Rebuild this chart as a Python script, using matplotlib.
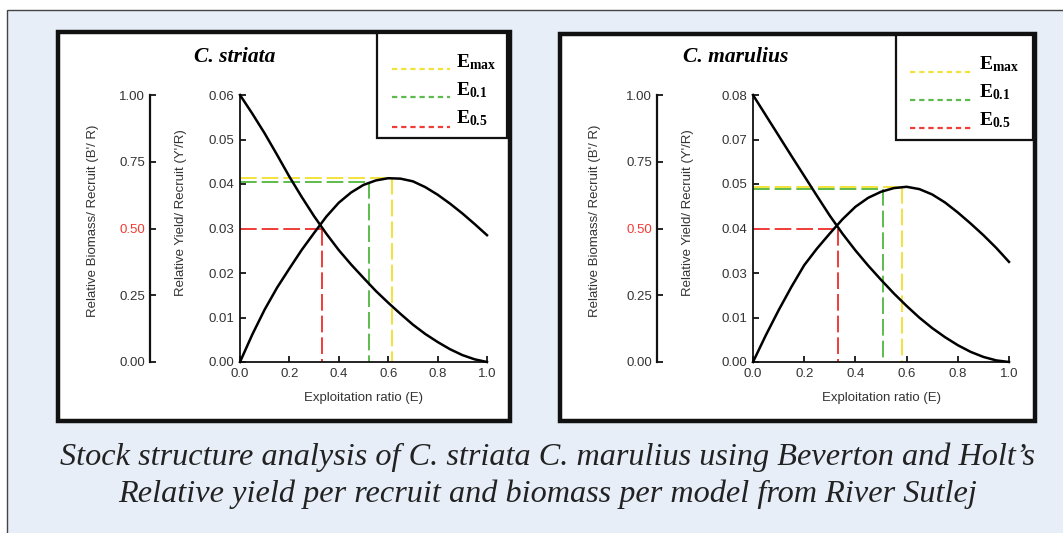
import numpy as np
import matplotlib
matplotlib.use("Agg")
import matplotlib.pyplot as plt
from matplotlib.patches import Rectangle
from matplotlib.lines import Line2D
from matplotlib.transforms import Affine2D

plt.rcParams['lines.scale_dashes'] = False
plt.rcParams['mathtext.fontset'] = 'custom'
plt.rcParams['mathtext.rm'] = 'Liberation Serif:bold'
plt.rcParams['mathtext.it'] = 'Liberation Serif:bold'
plt.rcParams['mathtext.bf'] = 'Liberation Serif:bold'

# ---------------------------------------------------------------- data
E = [0.00, 0.05, 0.10, 0.15, 0.20, 0.25, 0.30, 0.35, 0.40, 0.45, 0.50,
     0.55, 0.60, 0.65, 0.70, 0.75, 0.80, 0.85, 0.90, 0.95, 1.00]

striata_yield = [0.0000, 0.0062, 0.0118, 0.0167, 0.0210, 0.0252, 0.0290,
                 0.0327, 0.0358, 0.0381, 0.0398, 0.0408, 0.0413, 0.0412,
                 0.0406, 0.0393, 0.0376, 0.0356, 0.0334, 0.0310, 0.0285]
striata_biomass = [1.000, 0.930, 0.856, 0.776, 0.694, 0.618, 0.546, 0.480,
                   0.419, 0.365, 0.315, 0.266, 0.222, 0.180, 0.140, 0.105,
                   0.075, 0.048, 0.026, 0.010, 0.000]

marulius_yield = [0.0000, 0.0080, 0.0155, 0.0225, 0.0290, 0.0340, 0.0385,
                  0.0428, 0.0465, 0.0492, 0.0510, 0.0521, 0.0525, 0.0518,
                  0.0502, 0.0478, 0.0448, 0.0415, 0.0380, 0.0342, 0.0300]
marulius_biomass = [1.000, 0.924, 0.848, 0.772, 0.697, 0.622, 0.548, 0.480,
                    0.418, 0.361, 0.308, 0.257, 0.210, 0.166, 0.127, 0.093,
                    0.063, 0.038, 0.019, 0.006, 0.000]

# reference points: E_max, E_0.1, E_0.5
striata_E_ref = [0.615, 0.524, 0.333]
striata_Y_ref = [0.0414, 0.0404]
marulius_E_ref = [0.583, 0.509, 0.331]
marulius_Y_ref = [0.0525, 0.0517]
half_biomass = 0.50

striata_ytop = 0.06
marulius_ytop = 0.08

x_ticks = [0.0, 0.2, 0.4, 0.6, 0.8, 1.0]
biomass_ticks = [0.00, 0.25, 0.50, 0.75, 1.00]

species = ["C. striata", "C. marulius"]
ref_labels = [r'$\mathrm{E}_{\mathrm{max}}$', r'$\mathrm{E}_{0.1}$',
              r'$\mathrm{E}_{0.5}$']
ref_colors = ['#f2e33c', '#5dbb4e', '#ef3d37']

biomass_label = "Relative Biomass/ Recruit (B'/ R)"
yield_label = "Relative Yield/ Recruit (Y'/R)"
x_label = "Exploitation ratio (E)"
caption = ["Stock structure analysis of C. striata C. marulius using Beverton and Holt\u2019s",
           "Relative yield per recruit and biomass per model from River Sutlej"]

# ---------------------------------------------------------------- figure
W, H = 1063, 533
fig = plt.figure(figsize=(W / 100, H / 100), dpi=100)
fig.patch.set_facecolor('white')
PX = Affine2D().scale(1 / W, -1 / H).translate(0, 1) + fig.transFigure

SANS = 'Liberation Sans'
SERIF = 'Liberation Serif'
GREY = '#333333'


def box(x0, y0, x1, y1):
    return [x0 / W, 1 - y1 / H, (x1 - x0) / W, (y1 - y0) / H]


# light blue backdrop
fig.patches.append(Rectangle((7, 10), W, H, transform=PX, facecolor='#e7eef8',
                             edgecolor='#444444', lw=1.0, zorder=-3))


def draw_panel(frame, plot, bio_x, bio_lab_x, yld_lab_x, legend, title, title_x,
               yld, bio, e_ref, y_ref, ytop):
    fx0, fy0, fx1, fy1 = frame
    fig.patches.append(Rectangle((fx0 + 2, fy0 + 2), fx1 - fx0 - 4, fy1 - fy0 - 4,
                                 transform=PX, facecolor='white',
                                 edgecolor='#111111', lw=3.2, zorder=-2))
    px0, py0, px1, py1 = plot
    ax = fig.add_axes(box(*plot))
    ax.patch.set_alpha(0)
    ax.set_xlim(0, 1)
    ax.set_ylim(0, ytop)
    for s in ('top', 'right'):
        ax.spines[s].set_visible(False)
    for s in ('left', 'bottom'):
        ax.spines[s].set_linewidth(1.3)
        ax.spines[s].set_color('#111111')
    ax.set_xticks(x_ticks)
    ax.set_xticklabels([f'{t:.1f}' for t in x_ticks])
    yt = np.linspace(0, ytop, 7)
    ax.set_yticks(yt)
    ax.set_yticklabels([f'{t:.2f}' for t in yt])
    ax.tick_params(direction='in', length=4, width=1.2, labelsize=9.5,
                   labelcolor=GREY, pad=4)
    for lab in ax.get_xticklabels() + ax.get_yticklabels():
        lab.set_fontfamily(SANS)

    ax.set_xlabel(x_label, fontsize=9.5, color=GREY, fontfamily=SANS, va='center')
    ax.xaxis.set_label_coords(0.5, (py1 - 398) / (py1 - py0))
    ax.set_ylabel(yield_label, fontsize=9.5, color=GREY, fontfamily=SANS, va='center')
    ax.yaxis.set_label_coords((yld_lab_x - px0) / (px1 - px0), 0.56)

    # biomass axis on a detached spine to the left
    bax = ax.twinx()
    bax.set_ylim(0, 1)
    for s in ('top', 'right', 'bottom'):
        bax.spines[s].set_visible(False)
    bax.spines['left'].set_visible(True)
    bax.spines['left'].set_position(('axes', (bio_x - px0) / (px1 - px0)))
    bax.spines['left'].set_linewidth(1.6)
    bax.spines['left'].set_color('#111111')
    bax.yaxis.set_ticks_position('left')
    bax.yaxis.set_label_position('left')
    bax.set_yticks(biomass_ticks)
    bax.set_yticklabels([f'{t:.2f}' for t in biomass_ticks])
    bax.tick_params(direction='in', length=4, width=1.2, labelsize=9.5,
                    labelcolor=GREY, pad=3.5)
    for lab, t in zip(bax.get_yticklabels(), biomass_ticks):
        lab.set_fontfamily(SANS)
        if t == half_biomass:
            lab.set_color('#f03a32')
    bax.set_ylabel(biomass_label, fontsize=9.5, color=GREY, fontfamily=SANS, va='center')
    bax.yaxis.set_label_coords((bio_lab_x - px0) / (px1 - px0), 0.53)

    # reference lines
    ref_y = list(y_ref) + [half_biomass * ytop]
    for e, y, c in zip(e_ref, ref_y, ref_colors):
        ax.plot([0, e], [y, y], color=c, lw=1.4, dashes=(12, 3.6), zorder=2)
        ax.plot([e, e], [y, 0], color=c, lw=1.4, dashes=(12, 3.6), zorder=2)

    ax.plot(E, yld, color='black', lw=1.8, clip_on=False, zorder=3)
    bax.plot(E, bio, color='black', lw=1.8, clip_on=False, zorder=3)

    # title
    fig.text(title_x, 57, title, transform=PX, ha='center', va='center',
             fontfamily=SERIF, fontweight='bold', fontstyle='italic', fontsize=15.5)

    # legend box
    lx0, ly0, lx1, ly1, line_x0, line_x1, line_ys, text_x, text_ys = legend
    fig.patches.append(Rectangle((lx0, ly0), lx1 - lx0, ly1 - ly0, transform=PX,
                                 facecolor='white', edgecolor='#111111', lw=1.6,
                                 zorder=2))
    for ly, ty, lab, c in zip(line_ys, text_ys, ref_labels, ref_colors):
        fig.lines.append(Line2D([line_x0, line_x1], [ly, ly], transform=PX, color=c,
                                lw=1.6, dashes=(3.8, 2.8), zorder=3))
        fig.text(text_x, ty, lab, transform=PX, ha='left', va='baseline',
                 fontsize=14, zorder=3)
    return ax


draw_panel(frame=(56, 30, 512, 423), plot=(240, 95, 487, 362), bio_x=150,
           bio_lab_x=93, yld_lab_x=181,
           legend=(377, 33, 507, 138, 392, 450, [69, 97, 127], 456, [67, 95, 123]),
           title=species[0], title_x=235,
           yld=striata_yield, bio=striata_biomass,
           e_ref=striata_E_ref, y_ref=striata_Y_ref, ytop=striata_ytop)

draw_panel(frame=(558, 32, 1037, 423), plot=(753, 95, 1009, 362), bio_x=657,
           bio_lab_x=595, yld_lab_x=688,
           legend=(896, 35, 1033, 140, 910, 972, [72, 100, 128], 979, [69, 97, 125]),
           title=species[1], title_x=736,
           yld=marulius_yield, bio=marulius_biomass,
           e_ref=marulius_E_ref, y_ref=marulius_Y_ref, ytop=marulius_ytop)

# caption, sized to span the panel area
cap = []
for i, (line, y) in enumerate(zip(caption, [457, 494])):
    cap.append(fig.text(548, y, line, transform=PX, ha='center', va='center',
                        fontfamily=SERIF, fontstyle='italic', fontsize=20,
                        color='#222222'))
renderer = fig.canvas.get_renderer()
w1 = cap[0].get_window_extent(renderer).width
size = 20 * 973 / w1
for t in cap:
    t.set_fontsize(size)

fig.savefig('out.png', dpi=100)
